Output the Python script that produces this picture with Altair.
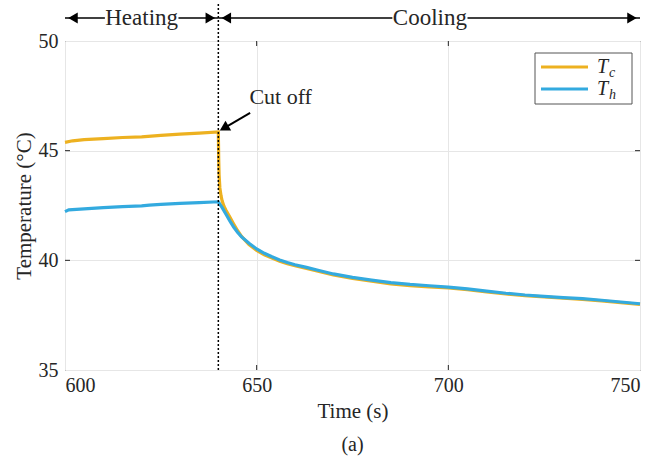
import altair as alt
import pandas as pd

FONT = "Liberation Serif"
INK = "#262626"
C_TC = "#EDB120"
C_TH = "#33AADF"
GRID = "#e6e6e6"

# ---- data ----
series_names = ["Tc", "Th"]

tc_time = [600, 602, 605, 610, 615, 620, 625, 630, 635, 640, 640.1, 640.2, 640.4,
           640.7, 641, 641.5, 642, 643, 644, 645, 646, 648, 650, 652, 654, 656,
           658, 660, 663, 666, 670, 675, 680, 685, 690, 695, 700, 705, 710, 715,
           720, 725, 730, 735, 740, 745, 750]
tc_temp = [45.38, 45.45, 45.5, 45.55, 45.6, 45.63, 45.7, 45.75, 45.8, 45.85, 44.6,
           43.9, 43.3, 42.95, 42.7, 42.45, 42.28, 41.97, 41.66, 41.36, 41.1, 40.72,
           40.45, 40.25, 40.1, 39.96, 39.85, 39.75, 39.63, 39.5, 39.33, 39.17,
           39.05, 38.93, 38.85, 38.79, 38.74, 38.66, 38.56, 38.47, 38.39, 38.33,
           38.27, 38.22, 38.15, 38.07, 37.99]

th_time = [600, 601, 605, 610, 615, 620, 622, 625, 630, 635, 640, 641, 642, 643,
           644, 645, 646, 648, 650, 652, 654, 656, 658, 660, 663, 666, 670, 675,
           680, 685, 690, 695, 700, 705, 710, 715, 720, 725, 730, 735, 740, 745, 750]
th_temp = [42.22, 42.3, 42.35, 42.4, 42.45, 42.48, 42.52, 42.55, 42.6, 42.63, 42.67,
           42.4, 42.1, 41.8, 41.52, 41.28, 41.08, 40.78, 40.52, 40.32, 40.16, 40.02,
           39.9, 39.8, 39.68, 39.55, 39.38, 39.22, 39.1, 38.98, 38.9, 38.84, 38.78,
           38.7, 38.6, 38.5, 38.42, 38.36, 38.3, 38.25, 38.18, 38.1, 38.02]

x_ticks = [600, 650, 700, 750]
y_ticks = [35, 40, 45, 50]
inner_x_ticks = [650, 700]
inner_y_ticks = [40, 45]

cutoff_time = 640
phase_labels = ["Heating", "Cooling"]
phase_centers = [620, 695.2]
phase_seg_start = [600, 629.6, 640, 705]
phase_seg_end = [610.4, 640, 685.4, 750]
arrow_left_at = [600, 640]
arrow_right_at = [640, 750]

cut_text = ["Cut off"]
cut_text_pos = [648.1, 47.45]
cut_tail = [648.3, 46.72]
cut_head = [641.5, 46.03]

# ---- frames ----
tc_df = pd.DataFrame({"t": tc_time, "T": tc_temp})
th_df = pd.DataFrame({"t": th_time, "T": th_temp})

x_scale = alt.Scale(domain=[600, 750], nice=False, zero=False)
y_scale = alt.Scale(domain=[35, 50], nice=False, zero=False)

x_axis = alt.Axis(values=x_ticks, title="Time (s)", format="d", grid=True,
                  ticks=False, domain=False, labelPadding=5, titlePadding=5)
y_axis = alt.Axis(values=y_ticks, title="Temperature (°C)", format="d", grid=True,
                  ticks=False, domain=False, labelPadding=7, titlePadding=4)

tc_line = alt.Chart(tc_df).mark_line(color=C_TC, strokeWidth=3.2).encode(
    x=alt.X("t:Q", scale=x_scale, axis=x_axis),
    y=alt.Y("T:Q", scale=y_scale, axis=y_axis),
)
th_line = alt.Chart(th_df).mark_line(color=C_TH, strokeWidth=3.2).encode(
    x=alt.X("t:Q"), y=alt.Y("T:Q"),
)

# inward ticks
xt = pd.DataFrame({"t": inner_x_ticks})
yt = pd.DataFrame({"T": inner_y_ticks})
tick_b = alt.Chart(xt).mark_rule(color=INK).encode(x="t:Q", y=alt.value(329), y2=alt.value(324))
tick_t = alt.Chart(xt).mark_rule(color=INK).encode(x="t:Q", y=alt.value(0), y2=alt.value(5))
tick_l = alt.Chart(yt).mark_rule(color=INK).encode(y="T:Q", x=alt.value(0), x2=alt.value(5))
tick_r = alt.Chart(yt).mark_rule(color=INK).encode(y="T:Q", x=alt.value(575), x2=alt.value(570))

# cut-off dotted line
cut_df = pd.DataFrame({"t": [cutoff_time]})
cut_rule = alt.Chart(cut_df).mark_rule(color="black", strokeWidth=1.5, strokeDash=[2, 2]).encode(
    x="t:Q", y=alt.value(-37), y2=alt.value(329)
)

# Heating / Cooling arrows
seg_df = pd.DataFrame({"t": phase_seg_start, "t2": phase_seg_end})
segs = alt.Chart(seg_df).mark_rule(color="black", strokeWidth=1.5).encode(
    x="t:Q", x2="t2:Q", y=alt.value(-23)
)
lab_df = pd.DataFrame({"t": phase_centers, "label": phase_labels})
labs = alt.Chart(lab_df).mark_text(font=FONT, fontSize=23, color=INK, baseline="middle").encode(
    x="t:Q", y=alt.value(-23), text="label:N"
)
al_df = pd.DataFrame({"t": arrow_left_at})
ar_df = pd.DataFrame({"t": arrow_right_at})
heads_l = alt.Chart(al_df).mark_point(shape="triangle-left", filled=True, color="black",
                                      opacity=1, size=120, xOffset=8).encode(
    x="t:Q", y=alt.value(-23))
heads_r = alt.Chart(ar_df).mark_point(shape="triangle-right", filled=True, color="black",
                                      opacity=1, size=120, xOffset=-8).encode(
    x="t:Q", y=alt.value(-23))

# Cut off annotation
ct_df = pd.DataFrame({"t": [cut_text_pos[0]], "T": [cut_text_pos[1]], "label": cut_text})
ct = alt.Chart(ct_df).mark_text(font=FONT, fontSize=22, color=INK, align="left",
                                baseline="middle").encode(x="t:Q", y="T:Q", text="label:N")
ca_df = pd.DataFrame({"t": [cut_tail[0]], "T": [cut_tail[1]], "t2": [cut_head[0]], "T2": [cut_head[1]]})
ca = alt.Chart(ca_df).mark_rule(color="black", strokeWidth=2).encode(
    x="t:Q", y="T:Q", x2="t2:Q", y2="T2:Q")
ch_df = pd.DataFrame({"t": [cut_head[0]], "T": [cut_head[1]]})
ch = alt.Chart(ch_df).mark_point(shape="triangle-up", filled=True, color="black", opacity=1,
                                 size=130, angle=240).encode(x="t:Q", y="T:Q")

# manual legend (subscripts)
leg_box = alt.Chart(pd.DataFrame({"k": [0]})).mark_rect(fill="white", stroke="#555555",
                                                          strokeWidth=1).encode(
    x=alt.value(470), x2=alt.value(567), y=alt.value(12), y2=alt.value(63))
leg_df = pd.DataFrame({
    "name": series_names,
    "main": ["T", "T"],
    "sub": ["c", "h"],
    "yy": [26, 48],
})
leg_color = alt.Color("name:N", scale=alt.Scale(domain=series_names, range=[C_TC, C_TH]), legend=None)
leg_lines = alt.Chart(leg_df).mark_rule(strokeWidth=3.2).encode(
    x=alt.value(476), x2=alt.value(523), y=alt.Y("yy:Q", scale=None), color=leg_color)
leg_main = alt.Chart(leg_df).mark_text(font=FONT, fontSize=20, fontStyle="italic", color=INK,
                                       align="left", baseline="middle").encode(
    x=alt.value(532), y=alt.Y("yy:Q", scale=None), text="main:N")
leg_sub = alt.Chart(leg_df).mark_text(font=FONT, fontSize=14, fontStyle="italic", color=INK,
                                      align="left", baseline="middle", dy=6).encode(
    x=alt.value(544), y=alt.Y("yy:Q", scale=None), text="sub:N")

# panel label
panel = alt.Chart(pd.DataFrame({"label": ["(a)"]})).mark_text(
    font=FONT, fontSize=20, color=INK, baseline="middle").encode(
    x=alt.value(287.5), y=alt.value(404), text="label:N")

chart = alt.layer(
    tc_line, th_line, tick_b, tick_t, tick_l, tick_r, cut_rule,
    segs, labs, heads_l, heads_r, ct, ca, ch,
    leg_box, leg_lines, leg_main, leg_sub, panel,
).properties(
    width=575, height=329,
    padding={"left": 65, "top": 41, "right": 28, "bottom": 100},
    autosize=alt.AutoSizeParams(type="none"),
    background="white",
).configure_view(
    stroke=INK, strokeWidth=1
).configure_axis(
    labelFont=FONT, titleFont=FONT, labelFontSize=20, titleFontSize=21,
    labelColor=INK, titleColor=INK, titleFontWeight="normal", gridColor=GRID,
    gridWidth=1,
)

chart.save("out.html", embed_options={"renderer": "svg", "actions": False})
